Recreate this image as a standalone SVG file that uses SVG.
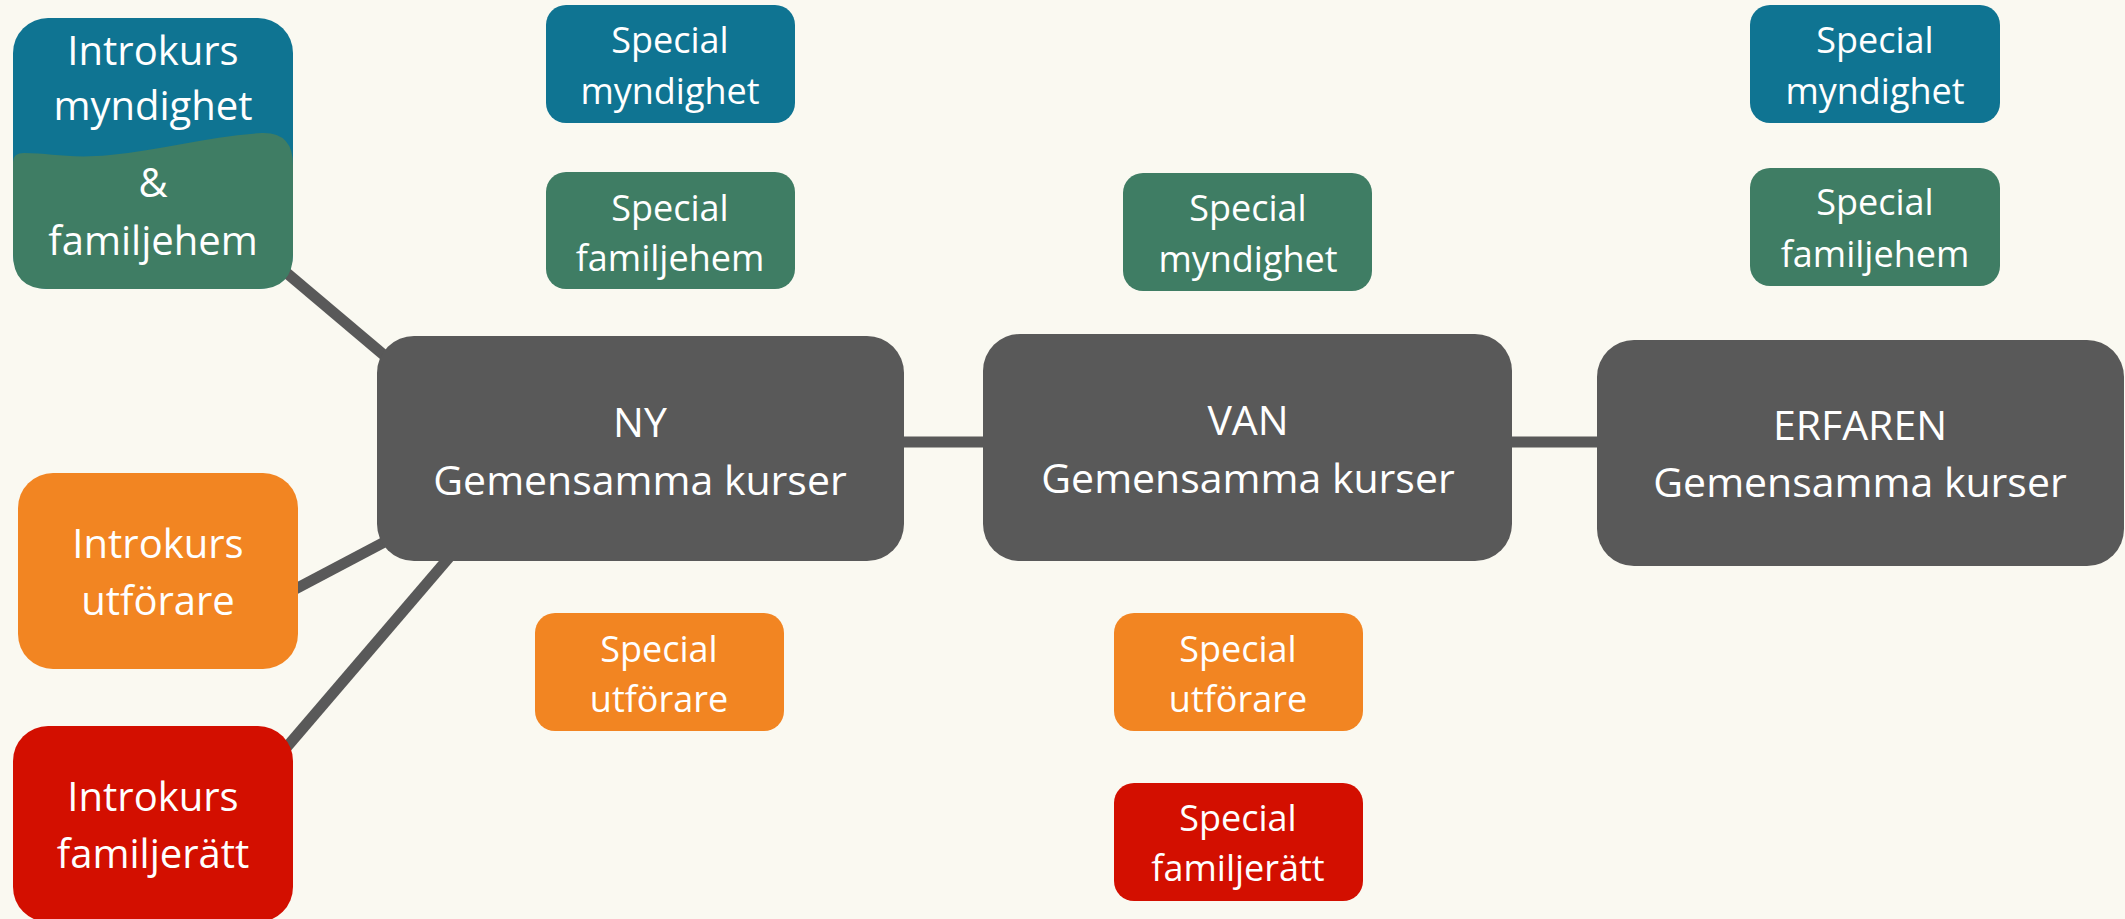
<svg xmlns="http://www.w3.org/2000/svg" width="2125" height="919" viewBox="0 0 2125 919">
<style>
.t{font-family:"Open Sans","Noto Sans","Liberation Sans",sans-serif;fill:#ffffff;text-anchor:middle}
.big{font-size:41px}
.intro{font-size:40px}
.sm{font-size:36px}
.gray{fill:#595959}
.blue{fill:#0F7492}
.green{fill:#3F7D64}
.orange{fill:#F28522}
.red{fill:#D30F00}
.con{stroke:#595959;stroke-width:11;fill:none}
</style>
<rect width="2125" height="919" fill="#FAF9F1"/>
<g id="connectors">
<line class="con" x1="250" y1="242" x2="430" y2="394"/>
<line class="con" x1="250" y1="613" x2="430" y2="518"/>
<line class="con" x1="250" y1="790" x2="470" y2="533"/>
<line class="con" x1="880" y1="442" x2="1010" y2="442"/>
<line class="con" x1="1490" y1="442" x2="1620" y2="442"/>
</g>
<g id="intro-myndighet-familjehem">
<rect class="blue" x="13" y="18" width="280" height="271" rx="35"/>
<path class="green" d="M13,162 Q13,153 24,153 C50,153 70,159 110,155 C160,150 210,136 262,133 Q293,132 293,165 L293,254 Q293,289 258,289 L48,289 Q13,289 13,254 Z"/>
<text class="t intro" x="153" y="65">Introkurs</text>
<text class="t intro" x="153" y="120">myndighet</text>
<text class="t intro" x="153" y="197">&amp;</text>
<text class="t intro" x="153" y="255">familjehem</text>
</g>
<g id="intro-utforare">
<rect class="orange" x="18" y="473" width="280" height="196" rx="35"/>
<text class="t intro" x="158" y="558">Introkurs</text>
<text class="t intro" x="158" y="615">utförare</text>
</g>
<g id="intro-familjeratt">
<rect class="red" x="13" y="726" width="280" height="196" rx="35"/>
<text class="t intro" x="153" y="811">Introkurs</text>
<text class="t intro" x="153" y="868">familjerätt</text>
</g>
<g id="ny">
<rect class="gray" x="377" y="336" width="527" height="225" rx="37"/>
<text class="t big" x="640" y="437">NY</text>
<text class="t big" x="640" y="495">Gemensamma kurser</text>
</g>
<g id="van">
<rect class="gray" x="983" y="334" width="529" height="227" rx="37"/>
<text class="t big" x="1248" y="435">VAN</text>
<text class="t big" x="1248" y="493">Gemensamma kurser</text>
</g>
<g id="erfaren">
<rect class="gray" x="1597" y="340" width="527" height="226" rx="37"/>
<text class="t big" x="1860" y="440">ERFAREN</text>
<text class="t big" x="1860" y="497">Gemensamma kurser</text>
</g>
<g id="ny-special-myndighet">
<rect class="blue" x="546" y="5" width="249" height="118" rx="20"/>
<text class="t sm" x="670" y="53">Special</text>
<text class="t sm" x="670" y="104">myndighet</text>
</g>
<g id="ny-special-familjehem">
<rect class="green" x="546" y="172" width="249" height="117" rx="20"/>
<text class="t sm" x="670" y="221">Special</text>
<text class="t sm" x="670" y="271">familjehem</text>
</g>
<g id="ny-special-utforare">
<rect class="orange" x="535" y="613" width="249" height="118" rx="20"/>
<text class="t sm" x="659" y="662">Special</text>
<text class="t sm" x="659" y="712">utförare</text>
</g>
<g id="van-special-myndighet">
<rect class="green" x="1123" y="173" width="249" height="118" rx="20"/>
<text class="t sm" x="1248" y="221">Special</text>
<text class="t sm" x="1248" y="272">myndighet</text>
</g>
<g id="van-special-utforare">
<rect class="orange" x="1114" y="613" width="249" height="118" rx="20"/>
<text class="t sm" x="1238" y="662">Special</text>
<text class="t sm" x="1238" y="712">utförare</text>
</g>
<g id="van-special-familjeratt">
<rect class="red" x="1114" y="783" width="249" height="118" rx="20"/>
<text class="t sm" x="1238" y="831">Special</text>
<text class="t sm" x="1238" y="881">familjerätt</text>
</g>
<g id="erfaren-special-myndighet">
<rect class="blue" x="1750" y="5" width="250" height="118" rx="20"/>
<text class="t sm" x="1875" y="53">Special</text>
<text class="t sm" x="1875" y="104">myndighet</text>
</g>
<g id="erfaren-special-familjehem">
<rect class="green" x="1750" y="168" width="250" height="118" rx="20"/>
<text class="t sm" x="1875" y="215">Special</text>
<text class="t sm" x="1875" y="267">familjehem</text>
</g>
</svg>
